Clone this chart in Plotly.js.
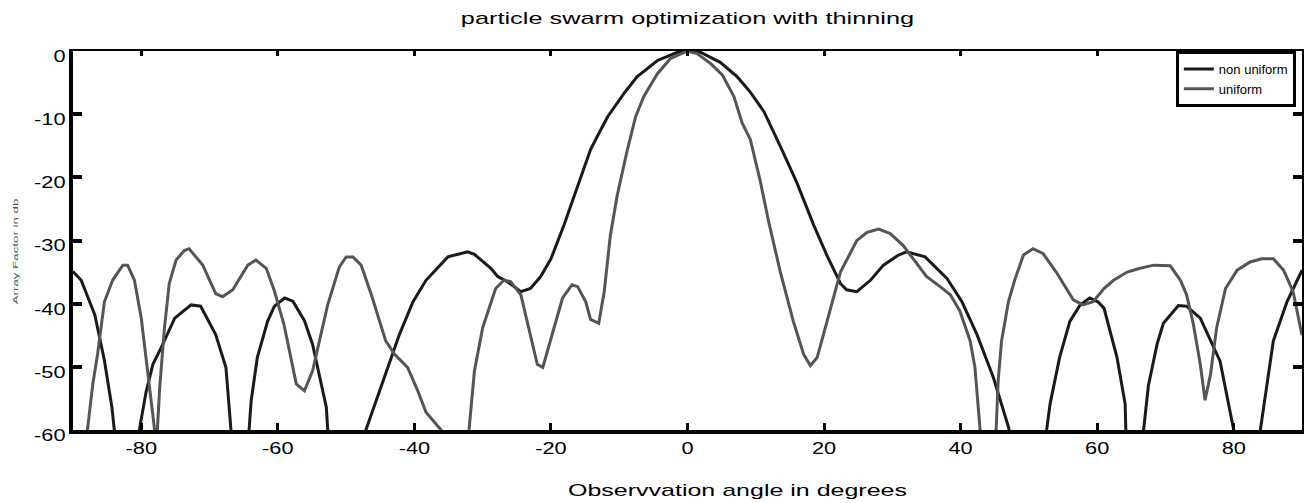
<!DOCTYPE html>
<html>
<head>
<meta charset="utf-8">
<script src="https://cdn.plot.ly/plotly-3.0.1.min.js"></script>
<style>
html,body{margin:0;padding:0;background:#fff;}
#chart{width:1304px;height:503px;}
</style>
</head>
<body>
<div id="chart"></div>
<script>
// Non uniform (black) pattern
const xNon = [-90,-88.8,-86.8,-85.4,-84.3,-84,-82,-80.2,-79.3,-78.3,-77.1,-75.1,-72.7,-71.3,-69.1,-67.6,-66.9,-65.6,-64.2,-63.9,-63,-61.5,-60.5,-59,-57.8,-56.1,-54.9,-53.9,-52.9,-52.7,-50,-47.1,-45.4,-43.9,-42.2,-40.2,-38.3,-35.1,-32.2,-31.2,-28.8,-27.8,-26.4,-24.4,-23,-21.5,-20,-18.1,-16.1,-14.2,-13.2,-11.7,-9.3,-7.4,-4.4,-1.5,0,1.9,4.8,7.3,9.2,11.2,13.6,16,18.5,20.4,22.4,23.3,24.8,26.8,28.7,30.9,32.1,34.8,38,40.2,42.4,44.8,47,50,52.6,53.1,54.5,56,57.5,58.9,60.1,61,62.9,64.1,64.2,65.5,66.8,67.5,68.8,69.7,71.9,73.1,75.1,78,80,82,83.9,85.8,87.8,90];
const yNon = [-34.9,-36.3,-41.8,-49,-56.4,-59.5,-75,-59.5,-54,-49.6,-47,-42.3,-40.2,-40.4,-44.9,-50.1,-59.5,-75,-59.8,-55.3,-48.5,-42.8,-40.4,-39.1,-39.6,-42.7,-46.5,-51.2,-56.4,-59.8,-75,-60,-54.8,-50.1,-44.9,-39.7,-36.3,-32.6,-31.8,-32.2,-34.4,-35.7,-36.5,-38.1,-37.6,-35.7,-32.9,-27.6,-21.4,-15.6,-13.5,-10.4,-6.7,-4.1,-1.5,-0.2,0,-0.2,-1.8,-4.1,-6.5,-9.6,-15.1,-20.8,-27.6,-32.3,-36.8,-37.8,-38.1,-36.3,-33.9,-32.3,-31.8,-32.6,-36,-39.7,-44.9,-51.7,-59.5,-75,-60,-55.9,-48.5,-42.8,-40.2,-39.1,-39.7,-40.7,-48.5,-55.9,-60,-75,-60,-53,-46.3,-43.1,-40.3,-40.4,-42.3,-49.1,-60,-75,-60,-45.9,-39.7,-34.7];

// Uniform (gray) pattern
const xUni = [-89.5,-87.8,-87.1,-86.4,-85.4,-84.2,-82.7,-82,-81,-80,-78.8,-78.1,-77.95,-77.3,-76.6,-75.9,-74.9,-73.7,-73,-71,-69.1,-68.1,-66.6,-64.4,-63.2,-61.7,-60.5,-59.1,-57.3,-56.1,-54.9,-53.7,-52.7,-51,-50,-49,-47.8,-46.3,-44.2,-42.9,-41,-39.5,-38.3,-36.1,-34,-32,-31.2,-30,-28.1,-26.9,-25.9,-24.4,-22,-21.2,-20,-18.3,-16.9,-16.1,-14.9,-14.2,-13,-12.2,-11.3,-10.3,-8.8,-7.6,-6.4,-4.4,-2.5,0,1.4,3.4,5.1,6.8,8,9.2,10.7,11.9,13.6,15.5,17,18,19,20.4,22.4,24.8,26.3,28,29.7,31.6,33.1,35,37,38.5,39.9,41.4,42.1,42.6,42.8,44,45.2,45.5,46,47,48,49.2,50.6,52.1,54,55.5,56.5,57.9,59.4,61,62.4,64.4,66.3,68.3,70.7,72.2,73.1,74.1,75.1,75.8,76.6,77.5,78.8,80.5,82.4,84.1,85.8,87.3,88.7,90];
const yUni = [-75,-59.5,-52.7,-48,-39.7,-36.3,-33.9,-33.9,-36.3,-42.3,-52.7,-59.5,-66,-53.3,-43.8,-36.8,-33.1,-31.6,-31.3,-33.9,-38.4,-38.9,-37.8,-33.9,-33.1,-34.4,-38,-43.3,-52.7,-53.8,-50.6,-45,-40.2,-34.2,-32.6,-32.6,-33.9,-38.6,-45.9,-48,-50.1,-53.8,-57.2,-60,-75,-60,-50.6,-43.8,-37.6,-36.3,-36.5,-38.6,-49.6,-50.1,-45.4,-39.1,-37,-37.3,-39.7,-42.5,-43.1,-38.1,-29.2,-22.9,-15.6,-10.4,-7.2,-3.6,-1.2,0,-0.4,-2,-3.8,-7.2,-11.4,-14,-20.8,-27.1,-35,-42.8,-48,-49.8,-48.5,-42.8,-35,-30,-28.7,-28.2,-28.9,-30.8,-32.9,-35.7,-37.3,-38.6,-41.2,-45.9,-50.1,-56.4,-60,-75,-60,-52.2,-45.9,-39.7,-36,-32.3,-31.3,-32.1,-35,-37.6,-39.4,-40.2,-39.7,-37.6,-36.3,-35,-34.4,-33.9,-34,-36.3,-38.6,-43.3,-49.6,-55.3,-51.2,-43.8,-37.6,-34.7,-33.4,-32.9,-32.9,-34.7,-38.1,-45];

const xTicks = [-80,-60,-40,-20,0,20,40,60,80];
const yTicks = [-60,-50,-40,-30,-20,-10,0];

const FONT = '"Liberation Sans", Arial, Helvetica, sans-serif';

const traces = [
  {x: xNon, y: yNon, type: 'scatter', mode: 'lines', name: 'non uniform',
   line: {color: '#1a1a1a', width: 3}},
  {x: xUni, y: yUni, type: 'scatter', mode: 'lines', name: 'uniform',
   line: {color: '#555555', width: 3}},
  {x: [0], y: [0], xaxis: 'x2', yaxis: 'y2', mode: 'none', type: 'scatter',
   showlegend: false, hoverinfo: 'skip'}
];

const layout = {
  width: 1304, height: 503,
  margin: {l: 73, r: 2, t: 51, b: 73},
  paper_bgcolor: '#ffffff', plot_bgcolor: '#ffffff',
  font: {family: FONT, size: 17, color: '#000'},
  title: {text: 'particle swarm optimization with thinning',
          font: {family: FONT, size: 17, color: '#000'},
          xref: 'paper', x: 0.5, xanchor: 'center', y: 0.965, yanchor: 'middle'},
  xaxis: {
    range: [-90, 90], tickvals: xTicks, ticktext: xTicks.map(String),
    showgrid: false, zeroline: false,
    showline: true, linecolor: '#000', linewidth: 4,
    ticks: 'inside', ticklen: 7, tickwidth: 3, tickcolor: '#000',
    tickfont: {family: FONT, size: 17, color: '#000'},
    title: {text: 'Observvation angle in degrees', standoff: 28,
            font: {family: FONT, size: 17, color: '#000'}}
  },
  yaxis: {
    range: [-60, 0], tickvals: yTicks, ticktext: yTicks.map(String),
    showgrid: false, zeroline: false,
    showline: true, linecolor: '#000', linewidth: 4,
    ticks: 'inside', ticklen: 9, tickwidth: 4, tickcolor: '#000',
    ticklabelshift: 5,
    tickfont: {family: FONT, size: 17, color: '#000'},
    title: {text: 'Array Factor in db', standoff: 20,
            font: {family: FONT, size: 7, color: '#555'}}
  },
  xaxis2: {
    overlaying: 'x', side: 'top', matches: 'x', range: [-90, 90],
    tickvals: xTicks, showticklabels: false, showgrid: false, zeroline: false,
    showline: true, linecolor: '#000', linewidth: 2,
    ticks: 'inside', ticklen: 5, tickwidth: 3, tickcolor: '#000'
  },
  yaxis2: {
    overlaying: 'y', side: 'right', range: [-60, 0],
    tickvals: yTicks, showticklabels: false, showgrid: false, zeroline: false,
    showline: true, linecolor: '#000', linewidth: 3,
    ticks: 'inside', ticklen: 9, tickwidth: 4, tickcolor: '#000'
  },
  showlegend: true,
  legend: {
    x: 0.995, xanchor: 'right', y: 1.0, yanchor: 'top',
    bgcolor: '#ffffff', bordercolor: '#000', borderwidth: 3,
    font: {family: FONT, size: 13, color: '#000'},
    tracegroupgap: 0, itemwidth: 30
  }
};

// The reference figure's text is horizontally stretched; mimic it with textLength.
function stretch(el, f) {
  try {
    const w = el.getComputedTextLength();
    if (w > 0) {
      el.setAttribute('textLength', (w * f).toFixed(1));
      el.setAttribute('lengthAdjust', 'spacingAndGlyphs');
    }
  } catch (e) {}
}

Plotly.newPlot('chart', traces, layout, {staticPlot: true}).then(function (gd) {
  gd.querySelectorAll('.gtitle').forEach(el => stretch(el, 1.49));
  gd.querySelectorAll('.xtitle').forEach(el => {
    stretch(el, 1.47);
    el.setAttribute('x', (parseFloat(el.getAttribute('x')) + 50).toFixed(1));
  });
  gd.querySelectorAll('.ytitle').forEach(el => {
    stretch(el, 1.9);
    el.setAttribute('x', (parseFloat(el.getAttribute('x')) - 11).toFixed(1));
    el.setAttribute('y', (parseFloat(el.getAttribute('y')) - 3).toFixed(1));
  });
  gd.querySelectorAll('.xtick text, .ytick text').forEach(el => stretch(el, 1.28));
});
</script>
</body>
</html>
